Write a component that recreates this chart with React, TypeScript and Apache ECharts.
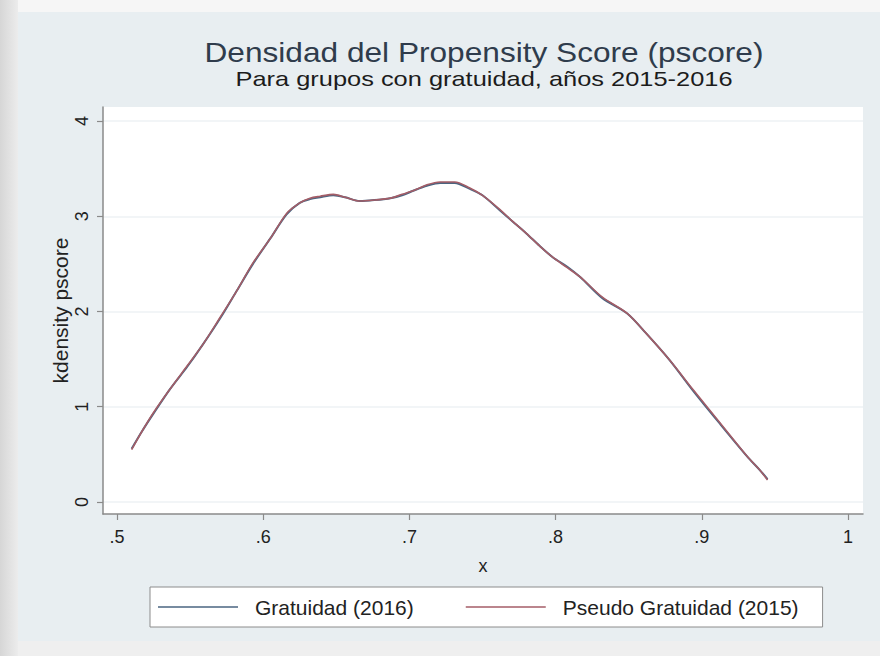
import React, { useEffect, useRef } from "react";
import * as echarts from "echarts";

const titleText = "Densidad del Propensity Score (pscore)";
const subtitleText = "Para grupos con gratuidad, años 2015-2016";
const seriesNames = ["Gratuidad (2016)", "Pseudo Gratuidad (2015)"];
const xAxisName = "x";
const yAxisName = "kdensity pscore";
const xTicks = [0.5, 0.6, 0.7, 0.8, 0.9, 1];
const yTicks = [0, 1, 2, 3, 4];

const pscore = [
  0.51, 0.517, 0.525, 0.536, 0.548, 0.559, 0.571, 0.582, 0.593, 0.605, 0.616,
  0.625, 0.632, 0.639, 0.648, 0.656, 0.666, 0.676, 0.687, 0.695, 0.703, 0.712,
  0.721, 0.731, 0.741, 0.75, 0.762, 0.771, 0.78, 0.789, 0.798, 0.808, 0.817,
  0.832, 0.849, 0.862, 0.878, 0.894, 0.912, 0.931, 0.94, 0.945,
];
const densGratuidad2016 = [
  0.56, 0.74, 0.93, 1.18, 1.42, 1.66, 1.94, 2.22, 2.5, 2.77, 3.02, 3.14, 3.18,
  3.2, 3.22, 3.2, 3.16, 3.17, 3.19, 3.22, 3.27, 3.32, 3.35, 3.35, 3.29, 3.22,
  3.06, 2.94, 2.82, 2.69, 2.57, 2.47, 2.36, 2.14, 1.98, 1.77, 1.49, 1.17, 0.83,
  0.48, 0.33, 0.24,
];
const densPseudo2015 = [
  0.55, 0.74, 0.94, 1.18, 1.43, 1.66, 1.95, 2.22, 2.51, 2.77, 3.03, 3.14, 3.19,
  3.21, 3.23, 3.2, 3.16, 3.17, 3.19, 3.23, 3.27, 3.33, 3.36, 3.36, 3.3, 3.22,
  3.07, 2.94, 2.82, 2.69, 2.57, 2.46, 2.36, 2.15, 1.98, 1.77, 1.49, 1.18, 0.84,
  0.48, 0.33, 0.23,
];

const FONT = "'Liberation Sans', Arial, Helvetica, sans-serif";

export default function App() {
  const ref = useRef<HTMLDivElement>(null);

  useEffect(() => {
    document.body.style.margin = "0";
    const chart = echarts.init(ref.current!, null, { renderer: "svg" });
    const fmtX = (v: number) => {
      const s = Number(v).toFixed(1);
      return s === "1.0" ? "1" : s.replace(/^0/, "");
    };
    chart.setOption({
      animation: false,
      backgroundColor: "transparent",
      graphic: [
        {
          type: "text",
          x: 484,
          y: 52,
          scaleX: 1.13,
          silent: true,
          style: {
            text: titleText,
            textAlign: "center",
            textVerticalAlign: "middle",
            align: "center",
            verticalAlign: "middle",
            fontFamily: FONT,
            fontSize: 28,
            fill: "#2f3c4c",
          },
        },
        {
          type: "text",
          x: 484,
          y: 79,
          scaleX: 1.21,
          silent: true,
          style: {
            text: subtitleText,
            textAlign: "center",
            textVerticalAlign: "middle",
            align: "center",
            verticalAlign: "middle",
            fontFamily: FONT,
            fontSize: 21,
            fill: "#1c1c1c",
          },
        },
      ],
      legend: {
        data: seriesNames,
        left: 150,
        top: 587,
        orient: "horizontal",
        icon: "rect",
        itemWidth: 80,
        itemHeight: 1.6,
        itemGap: 52,
        padding: [9, 24, 9, 8],
        borderColor: "#8c8c8c",
        borderWidth: 1,
        borderRadius: 0,
        backgroundColor: "#ffffff",
        textStyle: { fontFamily: FONT, fontSize: 21, lineHeight: 22, color: "#222", padding: [0, 0, 0, 12] },
      },
      grid: {
        left: 103,
        right: 17,
        top: 107,
        bottom: 142,
        show: true,
        backgroundColor: "#ffffff",
        borderWidth: 0,
      },
      xAxis: {
        type: "value",
        min: 0.4904,
        max: 1.0103,
        name: xAxisName,
        nameLocation: "middle",
        nameGap: 43,
        nameMoveOverlap: false,
        nameTextStyle: { fontFamily: FONT, fontSize: 18, color: "#222" },
        axisLine: { show: true, onZero: false, lineStyle: { color: "#8a8a8a", width: 1.5 } },
        axisTick: { show: true, inside: false, length: 6, customValues: xTicks, lineStyle: { color: "#8a8a8a", width: 1.2 } },
        axisLabel: {
          customValues: xTicks,
          formatter: fmtX,
          fontFamily: FONT,
          fontSize: 18,
          color: "#222",
          margin: 14,
        },
        splitLine: { show: false },
      },
      yAxis: {
        type: "value",
        min: -0.126,
        max: 4.147,
        name: yAxisName,
        nameLocation: "middle",
        nameGap: 32,
        nameMoveOverlap: false,
        nameTextStyle: { fontFamily: FONT, fontSize: 21, color: "#222" },
        axisLine: { show: true, onZero: false, lineStyle: { color: "#8a8a8a", width: 1.5 } },
        axisTick: { show: true, inside: false, length: 6, customValues: yTicks, lineStyle: { color: "#8a8a8a", width: 1.2 } },
        axisLabel: {
          customValues: yTicks,
          rotate: 90,
          align: "center",
          verticalAlign: "middle",
          fontFamily: FONT,
          fontSize: 18,
          color: "#222",
          margin: 21,
        },
        splitLine: { show: true, lineStyle: { color: "#eef2f4", width: 1.5 } },
      },
      series: [
        {
          name: seriesNames[0],
          type: "line",
          data: pscore.map((x, i) => [x, densGratuidad2016[i]]),
          smooth: 0.3,
          symbol: "none",
          color: "#4a6580",
          lineStyle: { color: "#4a6580", width: 2 },
          z: 2,
        },
        {
          name: seriesNames[1],
          type: "line",
          data: pscore.map((x, i) => [x, densPseudo2015[i]]),
          smooth: 0.3,
          symbol: "none",
          color: "#a45d67",
          lineStyle: { color: "#a45d67", width: 1.6 },
          z: 3,
        },
      ],
    });
    return () => chart.dispose();
  }, []);

  return (
    <div style={{ position: "relative", width: 880, height: 656, background: "#efefef", overflow: "hidden" }}>
      <div style={{ position: "absolute", left: 0, top: 0, width: 880, height: 12, background: "#f6f6f6" }} />
      <div style={{ position: "absolute", left: 0, top: 0, width: 18, height: 656, background: "linear-gradient(90deg, #d6d6d6, #ececec)" }} />
      <div style={{ position: "absolute", left: 18, top: 12, width: 862, height: 629, background: "#e8eef1" }} />
      <div ref={ref} style={{ position: "absolute", left: 0, top: 0, width: 880, height: 656 }} />
    </div>
  );
}
